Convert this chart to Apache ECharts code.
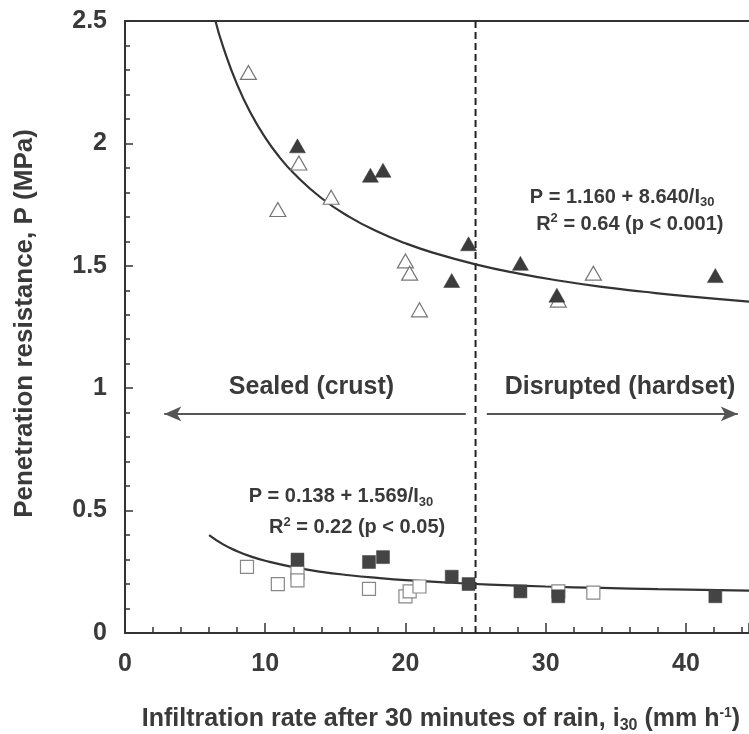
<!DOCTYPE html>
<html>
<head>
<meta charset="utf-8">
<script src="https://cdn.jsdelivr.net/npm/echarts@6/dist/echarts.min.js"></script>
<style>
  html, body { margin: 0; padding: 0; background: #fff; }
  #chart { width: 749px; height: 734px; }
</style>
</head>
<body>
<div id="chart"></div>
<script>
// ---- Data ----
// Penetration resistance of the seal/crust (triangles)
const openTriangles = [[8.8, 2.29], [12.4, 1.92], [10.9, 1.73], [14.7, 1.78], [20.0, 1.52], [20.3, 1.47], [21.0, 1.32], [33.4, 1.47], [30.9, 1.36]];
const filledTriangles = [[12.3, 1.99], [17.5, 1.87], [18.4, 1.89], [24.5, 1.59], [23.3, 1.44], [28.2, 1.51], [30.8, 1.38], [42.1, 1.46]];
// Penetration resistance of the subsurface (squares)
const openSquares = [[8.7, 0.27], [10.9, 0.20], [12.3, 0.245], [12.3, 0.215], [17.4, 0.18], [20.0, 0.15], [20.3, 0.17], [21.0, 0.19], [33.4, 0.165], [30.9, 0.17]];
const filledSquares = [[12.3, 0.30], [17.4, 0.29], [18.4, 0.31], [23.3, 0.23], [24.5, 0.20], [28.2, 0.17], [30.9, 0.15], [42.1, 0.15]];
// Fitted curves
const fitUpper = [[6.45, 2.50], [7, 2.394], [8, 2.24], [9, 2.12], [10, 2.024], [11, 1.945], [12, 1.88], [14, 1.777], [16, 1.70], [18, 1.64], [20, 1.592], [22, 1.553], [25, 1.506], [28, 1.469], [31, 1.439], [34, 1.414], [37, 1.394], [40, 1.376], [44.5, 1.354]];
const fitLower = [[6, 0.40], [7, 0.362], [8, 0.334], [9, 0.312], [10, 0.295], [12, 0.269], [14, 0.250], [16, 0.236], [18, 0.225], [20, 0.216], [23, 0.206], [26, 0.198], [30, 0.190], [34, 0.184], [38, 0.179], [44.5, 0.173]];
const boundaryX = 25;
const xTicks = [0, 10, 20, 30, 40];
const yTicks = [0, 0.5, 1, 1.5, 2, 2.5];

const FONT = '"Liberation Sans", Arial, Helvetica, sans-serif';
const TXT = '#3a3a3a';
const AX = '#333';

const chart = echarts.init(document.getElementById('chart'), null, { renderer: 'canvas' });

const option = {
  animation: false,
  backgroundColor: '#fff',
  grid: { left: 125, right: 0, top: 21, bottom: 101, containLabel: false, outerBoundsMode: 'none' },
  xAxis: [{
    type: 'value', min: 0, max: 44.5, interval: 10,
    axisLine: { show: true, onZero: false, lineStyle: { color: AX, width: 2 } },
    axisTick: { show: true, inside: true, length: 10, lineStyle: { color: AX, width: 1.5 } },
    minorTick: { show: true, splitNumber: 5, length: 6, lineStyle: { color: AX, width: 1.5 } },
    splitLine: { show: false },
    axisLabel: {
      margin: 19, fontSize: 25, fontWeight: 'bold', color: TXT, fontFamily: FONT, showMaxLabel: false,
      formatter: v => (xTicks.indexOf(v) >= 0 ? String(v) : '')
    },
    name: 'Infiltration rate after 30 minutes of rain, i{sub|30} (mm h{sup|-1})',
    nameLocation: 'middle', nameGap: 72, nameMoveOverlap: false,
    nameTextStyle: {
      fontSize: 25, fontWeight: 'bold', color: TXT, fontFamily: FONT, padding: [0, 0, 0, 8],
      rich: {
        sub: { fontSize: 16, fontWeight: 'bold', color: TXT, fontFamily: FONT, padding: [13, 0, 0, 0] },
        sup: { fontSize: 14, fontWeight: 'bold', color: TXT, fontFamily: FONT, padding: [0, 0, 13, 0] }
      }
    }
  }, {
    type: 'value', min: 0, max: 44.5, position: 'top',
    axisLine: { show: true, onZero: false, lineStyle: { color: AX, width: 2 } },
    axisTick: { show: false }, axisLabel: { show: false }, splitLine: { show: false }
  }],
  yAxis: {
    type: 'value', min: 0, max: 2.5, interval: 0.5,
    axisLine: { show: true, onZero: false, lineStyle: { color: AX, width: 2 } },
    axisTick: { show: true, inside: true, length: 8, lineStyle: { color: AX, width: 1.5 } },
    minorTick: { show: true, splitNumber: 5, length: 5, lineStyle: { color: AX, width: 1.5 } },
    splitLine: { show: false },
    axisLabel: {
      margin: 18, fontSize: 25, fontWeight: 'bold', color: TXT, fontFamily: FONT,
      formatter: v => (yTicks.indexOf(v) >= 0 ? String(v) : '')
    },
    name: 'Penetration resistance, P (MPa)',
    nameLocation: 'middle', nameGap: 87, nameRotate: 90, nameMoveOverlap: false,
    nameTextStyle: { fontSize: 26, fontWeight: 'bold', color: TXT, fontFamily: FONT, padding: [0, 0, 0, 7] }
  },
  series: [
    {
      name: 'boundary', type: 'line', data: [[boundaryX, 0], [boundaryX, 2.5]],
      symbol: 'none', lineStyle: { color: '#222', width: 2, type: [7, 4] }, z: 1,
      markLine: {
        silent: true, symbol: ['none', 'arrow'], symbolSize: [11, 17],
        label: { show: false },
        lineStyle: { color: '#555', width: 2, type: 'solid' },
        data: [
          [{ coord: [24.3, 0.895] }, { coord: [2.8, 0.895] }],
          [{ coord: [25.8, 0.895] }, { coord: [43.7, 0.895] }]
        ]
      }
    },
    {
      name: 'fitUpper', type: 'line', data: fitUpper, smooth: true, symbol: 'none',
      lineStyle: { color: '#333', width: 2.2 }, z: 2
    },
    {
      name: 'fitLower', type: 'line', data: fitLower, smooth: true, symbol: 'none',
      lineStyle: { color: '#333', width: 2.2 }, z: 2
    },
    {
      name: 'openTriangles', type: 'scatter', data: openTriangles, symbol: 'triangle', symbolSize: [16, 14],
      itemStyle: { color: '#fff', borderColor: '#777', borderWidth: 1.2, opacity: 1 }, z: 3
    },
    {
      name: 'filledTriangles', type: 'scatter', data: filledTriangles, symbol: 'triangle', symbolSize: [16, 14],
      itemStyle: { color: '#3c3c3c', borderColor: '#3c3c3c', borderWidth: 0.5, opacity: 1 }, z: 4
    },
    {
      name: 'openSquares', type: 'scatter', data: openSquares, symbol: 'rect', symbolSize: 13,
      itemStyle: { color: '#fff', borderColor: '#888', borderWidth: 1.2, opacity: 1 }, z: 3
    },
    {
      name: 'filledSquares', type: 'scatter', data: filledSquares, symbol: 'rect', symbolSize: 13,
      itemStyle: { color: '#444', borderColor: '#444', borderWidth: 0.5, opacity: 1 }, z: 4
    }
  ]
};
chart.setOption(option);

// Text annotations placed in data coordinates
const richEq = {
  sub: { fontSize: 13, fontWeight: 'bold', fontFamily: FONT, fill: TXT, padding: [11, 0, 0, 0] },
  sup: { fontSize: 13, fontWeight: 'bold', fontFamily: FONT, fill: TXT, padding: [0, 0, 11, 0] }
};
const annotations = [
  { at: [35.45, 1.78], text: 'P = 1.160 + 8.640/I{sub|30}', size: 20 },
  { at: [36.0, 1.67], text: 'R{sup|2} = 0.64 (p < 0.001)', size: 20 },
  { at: [13.3, 1.005], text: 'Sealed (crust)', size: 25 },
  { at: [35.3, 1.005], text: 'Disrupted (hardset)', size: 25 },
  { at: [15.4, 0.556], text: 'P = 0.138 + 1.569/I{sub|30}', size: 20 },
  { at: [16.55, 0.429], text: 'R{sup|2} = 0.22 (p < 0.05)', size: 20 }
];
const graphics = annotations.map(a => {
  const p = chart.convertToPixel({ xAxisIndex: 0, yAxisIndex: 0 }, a.at);
  return {
    type: 'text', x: p[0], y: p[1], z: 10,
    style: {
      text: a.text, fontSize: a.size, fontWeight: 'bold', fontFamily: FONT, fill: TXT,
      align: 'center', verticalAlign: 'middle', rich: richEq
    }
  };
});
chart.setOption({ graphic: graphics });
</script>
</body>
</html>
